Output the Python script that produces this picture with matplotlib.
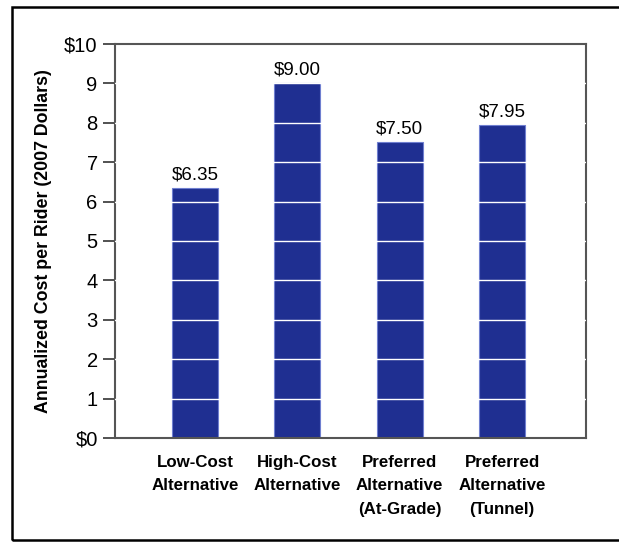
import matplotlib.pyplot as plt
from matplotlib.patches import Rectangle

plt.rcParams['font.family'] = ['Liberation Sans', 'DejaVu Sans']

categories = ['Low-Cost\nAlternative', 'High-Cost\nAlternative',
              'Preferred\nAlternative\n(At-Grade)', 'Preferred\nAlternative\n(Tunnel)']
costs = [6.35, 9.00, 7.50, 7.95]
value_labels = ['$6.35', '$9.00', '$7.50', '$7.95']
ytick_labels = ['$0', '1', '2', '3', '4', '5', '6', '7', '8', '9', '$10']

fig = plt.figure(figsize=(6.19, 5.42), dpi=100)
ax = fig.add_axes([115/619, 1-438/542, 471/619, 394/542])

x = list(range(len(costs)))
ax.bar(x, costs, width=0.45, color='#1f2f91', edgecolor='#6f7fd0', linewidth=0.8, zorder=2)

# white grid lines, only visible on top of the bars
for v in range(1, 10):
    ax.axhline(v, color='white', linewidth=1.0, zorder=3)

for xi, c, lab in zip(x, costs, value_labels):
    ax.text(xi, c + 0.12, lab, ha='center', va='bottom', fontsize=13.5)

ax.set_xlim(-0.78, 3.82)
ax.set_ylim(0, 10)
ax.set_yticks(range(11))
ax.set_yticklabels(ytick_labels, fontsize=14.5)
ax.set_xticks(x)
ax.set_xticklabels(categories, fontsize=12.2, fontweight='bold', linespacing=1.72)
ax.tick_params(axis='x', length=0, pad=12)
ax.tick_params(axis='y', length=8.5, width=1.2, color='#333333', pad=4)

for s in ax.spines.values():
    s.set_color('#555555')
    s.set_linewidth(1.5)

ax.set_ylabel('Annualized Cost per Rider (2007 Dollars)', fontsize=12.8, fontweight='bold', labelpad=9)

fig.patches.append(Rectangle((12/619, 2/542), 1.0, 533/542, transform=fig.transFigure,
                             fill=False, edgecolor='black', linewidth=1.8))

fig.savefig('out.png', dpi=100)
